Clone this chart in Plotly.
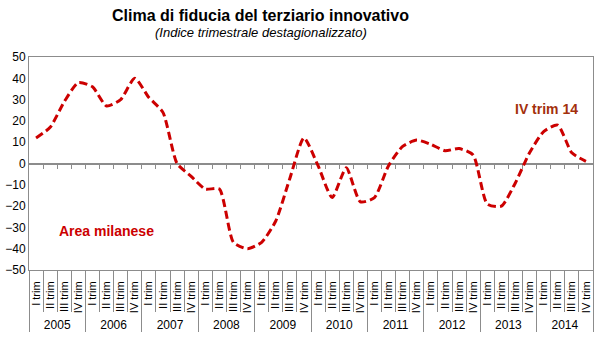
import plotly.graph_objects as go

years = ['2005', '2006', '2007', '2008', '2009', '2010', '2011', '2012', '2013', '2014']
quarters = ['I trim', 'II trim', 'III trim', 'IV trim']
values = [12, 17, 29, 38, 36, 27, 30, 40, 31, 24,
          0, -6, -12, -12, -37, -40, -37, -27, -7, 12,
          -1, -16, -2, -18, -16, -1, 8, 11, 9, 6,
          7, 4, -19, -20, -9, 5, 15, 18, 5, 1]
y_ticks = [-50, -40, -30, -20, -10, 0, 10, 20, 30, 40, 50]

nq = len(quarters)
n = len(values)
idx = list(range(n))
q_labels = [q for _ in years for q in quarters]
q_bounds = [k + 0.5 for k in range(n - 1)]
y_bounds = [k * nq - 0.5 for k in range(len(years) + 1)]
y_centers = [k * nq + (nq - 1) / 2 for k in range(len(years))]
xr = [-0.5, n - 0.5]

FONT = 'Liberation Sans, Arial, sans-serif'
RED = '#cc0000'
GREY = '#8c8c8c'

fig = go.Figure()
fig.add_trace(go.Scatter(x=idx, y=values, mode='lines',
                         line=dict(color=RED, width=3, dash='8px,4px', shape='spline', smoothing=0.6),
                         showlegend=False))

common = dict(range=xr, showgrid=False, zeroline=False, automargin=False)
fig.update_layout(
    template='none',
    width=600, height=364,
    margin=dict(l=29, r=7, t=57, b=94),
    plot_bgcolor='white', paper_bgcolor='white',
    font=dict(family=FONT, color='black'),
    xaxis=dict(**common, tickmode='array', tickvals=idx, ticktext=q_labels, tickangle=-90,
               ticks='', ticklabelstandoff=6, showline=True, linecolor=GREY, linewidth=1, mirror=True,
               tickfont=dict(size=11, family=FONT, color='black')),
    xaxis2=dict(**common, overlaying='x', anchor='free', position=0.5,
                tickmode='array', tickvals=q_bounds, ticks='outside', ticklen=4, tickcolor=GREY,
                showticklabels=False, showline=False),
    xaxis3=dict(**common, overlaying='x', anchor='y', side='bottom',
                tickmode='array', tickvals=q_bounds, ticks='outside', ticklen=41, tickcolor=GREY,
                showticklabels=False, showline=False),
    xaxis4=dict(**common, overlaying='x', anchor='y', side='bottom',
                tickmode='array', tickvals=y_bounds, ticks='outside', ticklen=61, tickcolor=GREY,
                showticklabels=False, showline=False),
    xaxis5=dict(**common, overlaying='x', anchor='y', side='bottom',
                tickmode='array', tickvals=y_centers, ticktext=years, ticks='',
                ticklabelstandoff=46, tickfont=dict(size=12, family=FONT, color='black'),
                showline=False),
    yaxis=dict(range=[-50, 50], tickmode='array', tickvals=y_ticks, automargin=False,
               showgrid=False, zeroline=True, zerolinecolor=GREY, zerolinewidth=1.5,
               showline=True, linecolor=GREY, linewidth=1, mirror=True, ticks='',
               tickfont=dict(size=12, family=FONT, color='black')),
    annotations=[
        dict(text='<b>Clima di fiducia del terziario innovativo</b>', xref='paper', yref='paper',
             x=0.411, y=1.1925, xanchor='center', yanchor='middle', showarrow=False,
             font=dict(size=16, family=FONT, color='black')),
        dict(text='<i>(Indice trimestrale destagionalizzato)</i>', xref='paper', yref='paper',
             x=0.411, y=1.117, xanchor='center', yanchor='middle', showarrow=False,
             font=dict(size=13, family=FONT, color='black')),
        dict(text='<b>Area milanese</b>', xref='paper', yref='y', x=0.138, y=-31.5,
             xanchor='center', yanchor='middle', showarrow=False,
             font=dict(size=14, family=FONT, color=RED)),
        dict(text='<b>IV trim 14</b>', xref='paper', yref='y', x=0.917, y=25.8,
             xanchor='center', yanchor='middle', showarrow=False,
             font=dict(size=14, family=FONT, color='#a3300c')),
    ],
)
# helper traces so the overlaying axes are rendered (no visible marks)
for ax in ['x2', 'x3', 'x4', 'x5']:
    fig.add_trace(go.Scatter(x=idx, y=values, xaxis=ax, mode='lines',
                             line=dict(width=0, color='rgba(0,0,0,0)'),
                             hoverinfo='skip', showlegend=False))

fig.write_html('out.html', config={'displayModeBar': False},
               post_script="document.body.style.margin='0';")
